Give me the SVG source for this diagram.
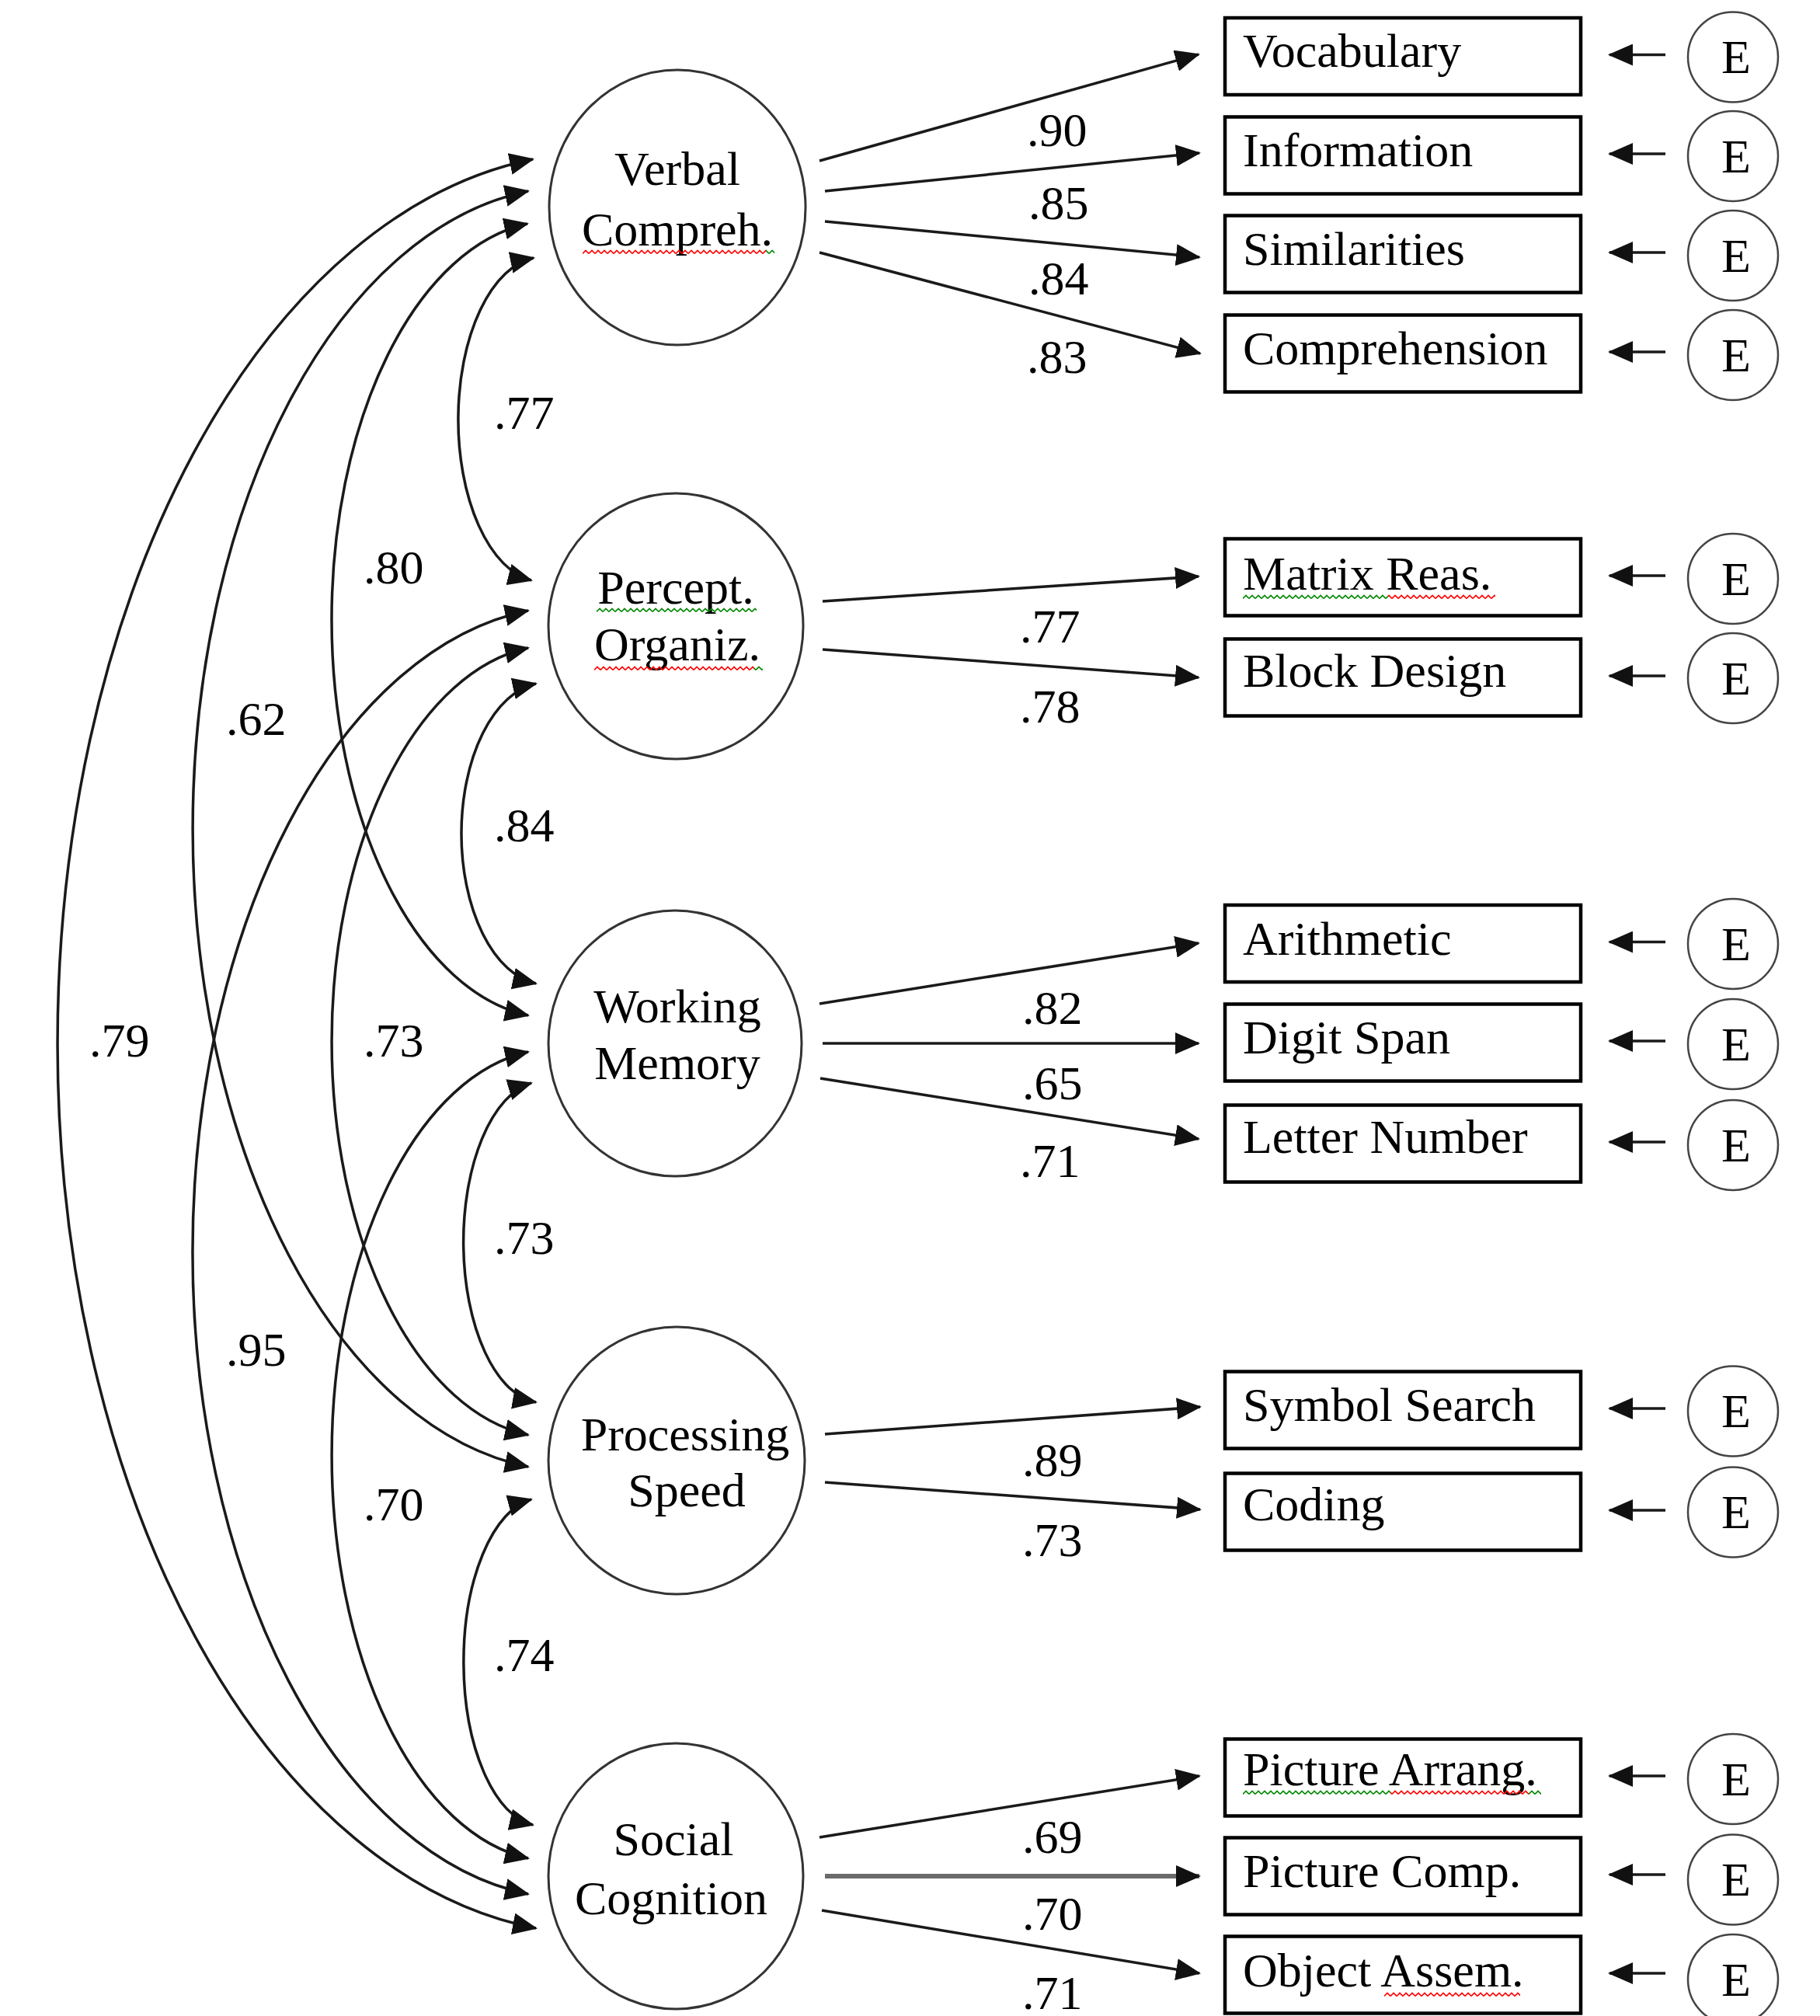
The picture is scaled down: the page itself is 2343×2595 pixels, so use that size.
<svg xmlns="http://www.w3.org/2000/svg" width="2343" height="2595" viewBox="0 0 2343 2595">
<style>
text{font-family:"Liberation Serif","Times New Roman",serif;font-size:62px;fill:#000}
.mid{text-anchor:middle}
.latent{fill:#fff;stroke:#333;stroke-width:3}
.box{fill:#fff;stroke:#000;stroke-width:4.5}
.err{fill:#fff;stroke:#444;stroke-width:2.5}
.ln{fill:none;stroke:#1a1a1a;stroke-width:3.5;marker-end:url(#ah)}
.cv{fill:none;stroke:#1a1a1a;stroke-width:3.5;marker-start:url(#ah);marker-end:url(#ah)}
</style>
<defs>
<marker id="ah" markerUnits="userSpaceOnUse" markerWidth="32" markerHeight="28" viewBox="0 0 32 28" refX="30" refY="14" orient="auto-start-reverse">
<path d="M0,0 L32,14 L0,28 Z" fill="#111"/>
</marker>
<pattern id="sqR" patternUnits="userSpaceOnUse" width="8" height="7">
<path d="M0,5.5 L4,1.5 L8,5.5" fill="none" stroke="#f00" stroke-width="1.6"/>
</pattern>
<pattern id="sqG" patternUnits="userSpaceOnUse" width="8" height="7">
<path d="M0,5.5 L4,1.5 L8,5.5" fill="none" stroke="#080" stroke-width="1.6"/>
</pattern>
</defs>
<rect width="2343" height="2595" fill="#fff"/>

<g id="connectors">
<!-- correlations -->
<path class="cv" d="M687,332 A108.5,209 0 0 0 684,747"/>
<path class="cv" d="M690,880 A109.1,194.4 0 0 0 690,1266"/>
<path class="cv" d="M684,1394 A102.3,207 0 0 0 690,1805"/>
<path class="cv" d="M684,1930 A100,211 0 0 0 686,2349"/>
<path class="cv" d="M679,288 A286.9,513.2 0 0 0 680,1307"/>
<path class="cv" d="M680,834 A287.5,510.2 0 0 0 680,1847"/>
<path class="cv" d="M680,1354 A287.5,522.8 0 0 0 680,2392"/>
<path class="cv" d="M680,246 A490.9,827 0 0 0 680,1888"/>
<path class="cv" d="M680,786 A490.9,832 0 0 0 680,2438"/>
<path class="cv" d="M686,205 A697.7,1146.8 0 0 0 690,2482"/>
<!-- loadings -->
<path class="ln" d="M1055,207 L1543,70"/>
<path class="ln" d="M1062,246 L1544,197"/>
<path class="ln" d="M1062,285 L1544,331"/>
<path class="ln" d="M1055,325 L1545,455"/>
<path class="ln" d="M1059,774 L1543,742"/>
<path class="ln" d="M1059,836 L1543,872"/>
<path class="ln" d="M1055,1292 L1543,1214"/>
<path class="ln" d="M1059,1343 L1543,1343"/>
<path class="ln" d="M1056,1388 L1543,1466"/>
<path class="ln" d="M1062,1846 L1545,1811"/>
<path class="ln" d="M1062,1908 L1545,1943"/>
<path class="ln" d="M1055,2365 L1544,2286"/>
<path class="ln" d="M1062,2415 L1544,2415" style="stroke:#6a6a6a;stroke-width:6"/>
<path class="ln" d="M1058,2459 L1544,2540"/>
<!-- error arrows -->
<path class="ln" d="M2144,70.5 L2072,70.5"/>
<path class="ln" d="M2144,198 L2072,198"/>
<path class="ln" d="M2144,325 L2072,325"/>
<path class="ln" d="M2144,453 L2072,453"/>
<path class="ln" d="M2144,741 L2072,741"/>
<path class="ln" d="M2144,870 L2072,870"/>
<path class="ln" d="M2144,1212.5 L2072,1212.5"/>
<path class="ln" d="M2144,1340 L2072,1340"/>
<path class="ln" d="M2144,1470 L2072,1470"/>
<path class="ln" d="M2144,1813 L2072,1813"/>
<path class="ln" d="M2144,1944 L2072,1944"/>
<path class="ln" d="M2144,2286 L2072,2286"/>
<path class="ln" d="M2144,2413 L2072,2413"/>
<path class="ln" d="M2144,2540 L2072,2540"/>
</g>

<g id="connector-labels">
<text x="636" y="552">.77</text>
<text x="468" y="751">.80</text>
<text x="291" y="946">.62</text>
<text x="636" y="1083">.84</text>
<text x="115" y="1360">.79</text>
<text x="468" y="1360">.73</text>
<text x="636" y="1614">.73</text>
<text x="291" y="1758">.95</text>
<text x="468" y="1957">.70</text>
<text x="636" y="2151">.74</text>
<text x="1322" y="188">.90</text>
<text x="1324" y="282">.85</text>
<text x="1324" y="379">.84</text>
<text x="1322" y="480">.83</text>
<text x="1313" y="827">.77</text>
<text x="1313" y="930">.78</text>
<text x="1316" y="1318">.82</text>
<text x="1316" y="1415">.65</text>
<text x="1313" y="1515">.71</text>
<text x="1316" y="1900">.89</text>
<text x="1316" y="2003">.73</text>
<text x="1316" y="2385">.69</text>
<text x="1316" y="2484">.70</text>
<text x="1316" y="2586">.71</text>
</g>

<g id="latent-verbal">
<ellipse class="latent" cx="872" cy="267" rx="165" ry="177"/>
<text class="mid" x="872" y="238">Verbal</text>
<text class="mid" x="872" y="316">Compreh.</text>
</g>
<g id="latent-perceptual">
<ellipse class="latent" cx="870" cy="806" rx="164" ry="171"/>
<text class="mid" x="870" y="777">Percept.</text>
<text class="mid" x="872" y="850">Organiz.</text>
</g>
<g id="latent-working">
<ellipse class="latent" cx="869" cy="1343" rx="163" ry="171"/>
<text class="mid" x="872" y="1316">Working</text>
<text class="mid" x="872" y="1389">Memory</text>
</g>
<g id="latent-processing">
<ellipse class="latent" cx="871" cy="1880" rx="165" ry="172"/>
<text class="mid" x="882" y="1867">Processing</text>
<text class="mid" x="884" y="1939">Speed</text>
</g>
<g id="latent-social">
<ellipse class="latent" cx="870" cy="2415" rx="164" ry="171"/>
<text class="mid" x="867" y="2388">Social</text>
<text class="mid" x="864" y="2464">Cognition</text>
</g>

<g id="box-vocabulary"><rect class="box" x="1577" y="23" width="458" height="99"/><text x="1600" y="86">Vocabulary</text></g>
<g id="box-information"><rect class="box" x="1577" y="150.5" width="458" height="99"/><text x="1600" y="213.5">Information</text></g>
<g id="box-similarities"><rect class="box" x="1577" y="277.5" width="458" height="99"/><text x="1600" y="340.5">Similarities</text></g>
<g id="box-comprehension"><rect class="box" x="1577" y="405.5" width="458" height="99"/><text x="1600" y="468.5">Comprehension</text></g>
<g id="box-matrix"><rect class="box" x="1577" y="693.5" width="458" height="99"/><text x="1600" y="759">Matrix Reas.</text></g>
<g id="box-block"><rect class="box" x="1577" y="822.5" width="458" height="99"/><text x="1600" y="884">Block Design</text></g>
<g id="box-arithmetic"><rect class="box" x="1577" y="1165" width="458" height="99"/><text x="1600" y="1229">Arithmetic</text></g>
<g id="box-digit"><rect class="box" x="1577" y="1292.5" width="458" height="99"/><text x="1600" y="1356">Digit Span</text></g>
<g id="box-letter"><rect class="box" x="1577" y="1422.5" width="458" height="99"/><text x="1600" y="1484">Letter Number</text></g>
<g id="box-symbol"><rect class="box" x="1577" y="1765.5" width="458" height="99"/><text x="1600" y="1829">Symbol Search</text></g>
<g id="box-coding"><rect class="box" x="1577" y="1896.5" width="458" height="99"/><text x="1600" y="1957">Coding</text></g>
<g id="box-picarrang"><rect class="box" x="1577" y="2238.5" width="458" height="99"/><text x="1600" y="2298">Picture Arrang.</text></g>
<g id="box-piccomp"><rect class="box" x="1577" y="2365.5" width="458" height="99"/><text x="1600" y="2429">Picture Comp.</text></g>
<g id="box-objassem"><rect class="box" x="1577" y="2492.5" width="458" height="99"/><text x="1600" y="2557">Object Assem.</text></g>

<g id="err-1"><circle class="err" cx="2231" cy="73.5" r="58"/><text class="mid" x="2235" y="94">E</text></g>
<g id="err-2"><circle class="err" cx="2231" cy="201" r="58"/><text class="mid" x="2235" y="221.5">E</text></g>
<g id="err-3"><circle class="err" cx="2231" cy="329" r="58"/><text class="mid" x="2235" y="349.5">E</text></g>
<g id="err-4"><circle class="err" cx="2231" cy="457" r="58"/><text class="mid" x="2235" y="477.5">E</text></g>
<g id="err-5"><circle class="err" cx="2231" cy="745" r="58"/><text class="mid" x="2235" y="765.5">E</text></g>
<g id="err-6"><circle class="err" cx="2231" cy="873" r="58"/><text class="mid" x="2235" y="893.5">E</text></g>
<g id="err-7"><circle class="err" cx="2231" cy="1215" r="58"/><text class="mid" x="2235" y="1235.5">E</text></g>
<g id="err-8"><circle class="err" cx="2231" cy="1344" r="58"/><text class="mid" x="2235" y="1364.5">E</text></g>
<g id="err-9"><circle class="err" cx="2231" cy="1474" r="58"/><text class="mid" x="2235" y="1494.5">E</text></g>
<g id="err-10"><circle class="err" cx="2231" cy="1816.5" r="58"/><text class="mid" x="2235" y="1837">E</text></g>
<g id="err-11"><circle class="err" cx="2231" cy="1946.5" r="58"/><text class="mid" x="2235" y="1967">E</text></g>
<g id="err-12"><circle class="err" cx="2231" cy="2290" r="58"/><text class="mid" x="2235" y="2310.5">E</text></g>
<g id="err-13"><circle class="err" cx="2231" cy="2419.5" r="58"/><text class="mid" x="2235" y="2440">E</text></g>
<g id="err-14"><circle class="err" cx="2231" cy="2548" r="58"/><text class="mid" x="2235" y="2568.5">E</text></g>

<g id="spellcheck-underlines">
<g transform="translate(750,321)"><rect width="236" height="7" fill="url(#sqR)"/><rect x="236" width="11" height="7" fill="url(#sqG)"/></g>
<g transform="translate(768,782)"><rect width="206" height="7" fill="url(#sqG)"/></g>
<g transform="translate(765,857)"><rect width="206" height="7" fill="url(#sqR)"/><rect x="206" width="11" height="7" fill="url(#sqG)"/></g>
<g transform="translate(1600,765)"><rect width="187" height="7" fill="url(#sqG)"/><rect x="187" width="138" height="7" fill="url(#sqR)"/></g>
<g transform="translate(1600,2304)"><rect width="190" height="7" fill="url(#sqG)"/><rect x="190" width="178" height="7" fill="url(#sqR)"/><rect x="368" width="16" height="7" fill="url(#sqG)"/></g>
<g transform="translate(1782,2564)"><rect width="175" height="7" fill="url(#sqR)"/></g>
</g>
</svg>
